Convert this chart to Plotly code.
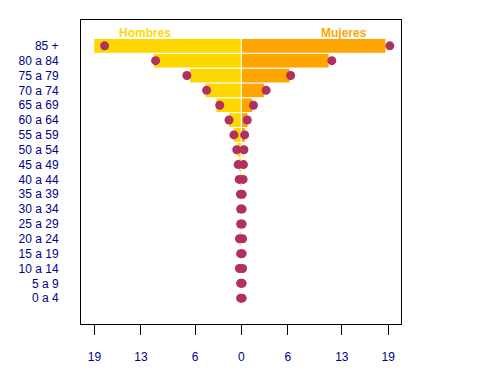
import plotly.graph_objects as go

age_groups = ["0 a 4", "5 a 9", "10 a 14", "15 a 19", "20 a 24", "25 a 29", "30 a 34",
              "35 a 39", "40 a 44", "45 a 49", "50 a 54", "55 a 59", "60 a 64",
              "65 a 69", "70 a 74", "75 a 79", "80 a 84", "85 +"]

# bars (percent), ordered from 0 a 4 up to 85 +
hombres_bar = [0.1, 0.05, 0.08, 0.1, 0.3, 0.12, 0.12, 0.15, 0.25, 0.35, 0.55,
               1.05, 1.65, 3.3, 4.7, 6.75, 11.4, 19.1]
mujeres_bar = [0.05, 0.05, 0.05, 0.05, 0.05, 0.05, 0.05, 0.05, 0.08, 0.1, 0.2,
               0.5, 0.85, 1.48, 3.0, 6.3, 11.35, 18.7]
# comparison points
hombres_pt = [0.1, 0.1, 0.25, 0.1, 0.25, 0.1, 0.1, 0.12, 0.28, 0.42, 0.6,
              0.97, 1.6, 2.8, 4.5, 7.05, 11.1, 17.7]
mujeres_pt = [0.1, 0.1, 0.15, 0.1, 0.15, 0.1, 0.1, 0.1, 0.22, 0.27, 0.33,
              0.42, 0.76, 1.56, 3.2, 6.37, 11.7, 19.2]

tick_vals = [-19, -13, -6, 0, 6, 13, 19]
tick_text = ["19", "13", "6", "0", "6", "13", "19"]

ypos = list(range(len(age_groups)))

fig = go.Figure()
fig.add_trace(go.Bar(y=ypos, x=[-v for v in hombres_bar], orientation="h", width=1.0,
                     marker=dict(color="#FFD700", line=dict(color="white", width=1)),
                     showlegend=False, hoverinfo="skip"))
fig.add_trace(go.Bar(y=ypos, x=mujeres_bar, orientation="h", width=1.0,
                     marker=dict(color="#FFA500", line=dict(color="white", width=1)),
                     showlegend=False, hoverinfo="skip"))
fig.add_trace(go.Scatter(y=ypos, x=[-v for v in hombres_pt], mode="markers",
                         marker=dict(color="#B03060", size=9), showlegend=False))
fig.add_trace(go.Scatter(y=ypos, x=mujeres_pt, mode="markers",
                         marker=dict(color="#B03060", size=9), showlegend=False))

fig.add_annotation(x=-12.5, y=17.87, text="<b>Hombres</b>", showarrow=False,
                   font=dict(color="#FFD700", size=12, family="Liberation Sans"))
fig.add_annotation(x=13.3, y=17.87, text="<b>Mujeres</b>", showarrow=False,
                   font=dict(color="#FFA500", size=12, family="Liberation Sans"))

fig.update_layout(
    width=480, height=383,
    margin=dict(l=66, r=87, t=11, b=67),
    paper_bgcolor="white", plot_bgcolor="white",
    barmode="overlay",
    font=dict(family="Liberation Sans", size=12, color="#00008B"),
    xaxis=dict(range=[-20.75, 20.65], tickvals=tick_vals, ticktext=tick_text,
               showgrid=False, zeroline=False, showline=True, mirror=True,
               linecolor="black", linewidth=1, ticks="outside", ticklen=10,
               tickcolor="black", ticklabelstandoff=12,
               tickfont=dict(color="#00008B", size=12)),
    yaxis=dict(range=[-1.74, 18.74], tickvals=ypos, ticktext=age_groups,
               showgrid=False, zeroline=False, showline=True, mirror=True,
               linecolor="black", linewidth=1, ticks="", ticklabelstandoff=19,
               tickfont=dict(color="#00008B", size=12)),
)

fig.write_html("out.html")
